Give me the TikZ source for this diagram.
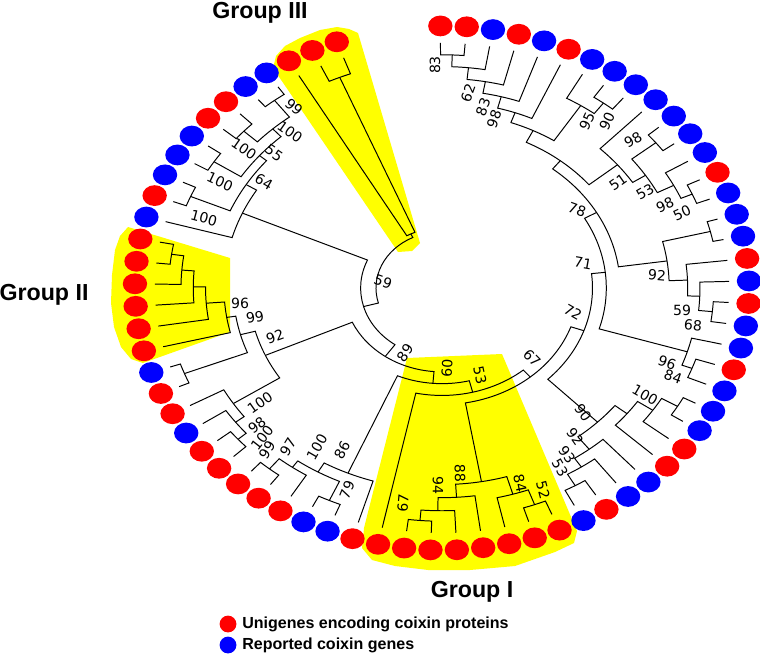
\documentclass[tikz,border=0pt]{standalone}
\usepackage{fontspec}
\setmainfont{Liberation Sans}
\newfontfamily\bootfont{DejaVu Sans}
\usepackage{xcolor}
\definecolor{unig}{HTML}{FF0000}
\definecolor{repo}{HTML}{0000FF}
\definecolor{hilite}{HTML}{FFFF00}

% leaves sit on 73 slots round the circle, clades join two children
\newcommand\tleaf[3]{%
  \pgfmathsetmacro\tang{119.9-4.9315*#2}%
  \expandafter\xdef\csname a@#1\endcsname{\tang}%
  \coordinate (#1) at (\tang:0.935);
  \fill[#3] (\tang:1) circle (0.26cm);
}
\newcommand\tclade[4]{%
  \edef\clA{\csname a@#3\endcsname}%
  \edef\clB{\csname a@#4\endcsname}%
  \pgfmathsetmacro\tmid{(\clA+\clB)/2}%
  \expandafter\xdef\csname a@#1\endcsname{\tmid}%
  \coordinate (#1) at (\tmid:#2);
  \draw[branch] (#3) -- (\clA:#2) arc[start angle=\clA, end angle=\clB, radius=#2*6.55cm] -- (#4);
}

\begin{document}
\begin{tikzpicture}[x=0.025cm, y=-0.025cm,
  branch/.style={line width=0.7pt},
  boot/.style={font=\bootfont\fontsize{10}{11}\selectfont, inner sep=0pt},
  grp/.style={font=\bfseries\fontsize{16.5}{18}\selectfont, inner sep=0pt, anchor=base},
  legend/.style={font=\bfseries\fontsize{11.4}{13}\selectfont, anchor=west, inner sep=0pt}]
  \useasboundingbox (0,0) rectangle (760,657);

  % Yellow group highlights
  \fill[hilite] (398,252) -- (273,68) -- (276,56) -- (285,46) -- (300,38) -- (320,30)
    -- (337,27) -- (349,29) -- (358,33) -- (420,243) -- (412,251) -- cycle;
  \fill[hilite] (128,227) -- (230,258) -- (230,332) -- (143,363) -- (131,359) -- (121,347)
    -- (114,327) -- (111,303) -- (112,275) -- (115,250) -- (120,236) -- cycle;
  \fill[hilite] (407,358) -- (502,354) -- (577,531) -- (574,543) -- (555,552) -- (515,566)
    -- (470,570) -- (428,570) -- (395,566) -- (372,560) -- (362,548) -- (364,528) -- cycle;

  % Tree
  \begin{scope}[shift={(442,288)}, xscale=1.1718, x=6.55cm, y=6.55cm]
    \foreach \s/\c in {73/unig,74/unig,75/unig,
        6/unig,7/unig,8/repo,9/unig,10/repo,11/unig,12/repo,13/repo,14/repo,15/repo,
        16/repo,17/repo,18/repo,19/unig,20/repo,21/repo,22/repo,23/unig,24/repo,25/unig,26/repo,
        27/repo,28/unig,29/repo,30/repo,31/repo,32/unig,33/unig,34/repo,35/repo,36/unig,37/repo,
        38/unig,39/unig,40/unig,41/unig,42/unig,43/unig,44/unig,45/unig,
        46/unig,47/repo,48/repo,49/unig,50/unig,51/unig,52/unig,53/unig,54/repo,55/unig,
        56/unig,57/repo,58/unig,59/unig,60/unig,61/unig,62/unig,63/unig,
        64/repo,65/unig,66/repo,67/repo,68/repo,69/unig,70/unig,71/repo,72/repo}
      {\tleaf{s\s}{\s}{\c}}
    \foreach \cn/\cr/\cu/\cv in {
        G3b/.87/s74/s75, G3/.23/s73/G3b,
        T1/.89/s6/s7, T2/.845/T1/s8, T3/.80/T2/s9, T4/.755/T3/s10, T5/.71/T4/s11,
        N90t/.88/s13/s14, N95/.83/s12/N90t, T6/.67/T5/N95,
        N98a/.89/s16/s17, N50/.89/s19/s20, N98b/.85/s18/N50, N53t/.79/N98a/N98b,
        N51/.74/s15/N53t, T7/.62/T6/N51,
        N21/.90/s21/s22, Nb/.885/s25/s26, N68/.84/s24/Nb, N59/.80/s23/N68, N92r/.74/N21/N59,
        N84r/.87/s28/s29, N96r/.835/s27/N84r,
        N30/.89/s30/s31, N100r/.83/N30/s32, Ny/.77/N100r/s33,
        N53b/.87/s36/s37, N93/.82/s35/N53b, N92b/.78/s34/N93, N90/.72/Ny/N92b,
        N52/.88/s38/s39, N84g/.82/N52/s40, N67g/.89/s43/s44, N94/.85/s42/N67g,
        N88/.80/s41/N94, G1b/.75/N84g/N88,
        N99b/.89/s50/s51, N97/.84/s49/N99b, N79/.89/s47/s48, N100h/.81/N79/N97, N86/.77/s46/N100h,
        Z/.88/s52/s53, Y/.845/s54/Z, X/.81/s55/Y, N57/.90/s56/s57,
        Ng1/.89/s62/s63, Ng2/.85/s61/Ng1, Ng3/.81/s60/Ng2, Ng4/.77/s59/Ng3, Ng5/.71/s58/Ng4,
        N96/.68/N57/Ng5, N99/.63/X/N96,
        Na/.89/s65/s66, N100e/.885/s67/s68, N100c/.88/s69/s70, N99u/.90/s71/s72,
        N100d/.82/N100c/N99u, N55/.78/N100e/N100d, N64/.75/Na/N55, UL/.71/s64/N64,
        B78/.58/N92r/T7, B71/.535/N96r/B78, B72/.49/N90/B71, B67/.445/G1b/B72,
        B53/.41/s45/B67, B60/.365/N86/B53, B89/.32/N99/B60, NA/.265/UL/B89, Rt/.215/G3/NA}
      {\tclade{\cn}{\cr}{\cu}{\cv}}
  \end{scope}

  % Bootstrap values
  \foreach \bx/\by/\ba/\bt [count=\i] in {
      435/65/90/83, 468/93/70/62, 483/107/70/83, 494/119/70/98, 587/121/65/95, 607/121/65/90,
      618/182/35/51, 633/140/30/98, 645/192/30/53, 665/205/25/98, 682/213/25/50,
      577/210/-20/78, 583/263/-10/71, 573/312/-30/72, 532/358/-45/67, 480/375/-78/53,
      447/368/87/60, 405/353/55/89, 383/282/-20/59,
      657/275/-5/92, 682/310/0/59, 693/325/-5/68, 667/363/-20/96, 673/377/-20/84,
      645/395/-30/100, 583/413/-55/90, 575/437/-55/92, 567/455/-55/93, 560/468/-60/53,
      520/483/-78/84, 543/490/-75/52, 460/473/-88/88, 438/485/-90/94, 403/503/85/67,
      342/450/62/86, 317/447/60/100, 347/490/68/79, 288/447/58/97, 267/450/58/99,
      262/438/52/100, 257/425/38/98, 260/403/35/100,
      240/303/0/96, 255/317/10/99, 275/337/20/92,
      294/107/-40/99, 290/132/-35/100, 244/149/-35/100, 274/153/-35/55,
      220/182/-25/100, 264/182/-30/64, 204/218/-15/100}
    {\node[boot, rotate=\ba] (boot\i) at (\bx,\by) {\bt};}

  % Group names
  \node[grp] (grpIII) at (260,19) {Group III};
  \node[grp] (grpII) at (44,300) {Group II};
  \node[grp] (grpI) at (472,597) {Group I};

  % Legend
  \fill[unig] (228,624) circle (0.21cm);
  \fill[repo] (228,645) circle (0.21cm);
  \node[legend] (legU) at (242,624) {Unigenes encoding coixin proteins};
  \node[legend] (legR) at (242,645) {Reported coixin genes};
\end{tikzpicture}
\end{document}
